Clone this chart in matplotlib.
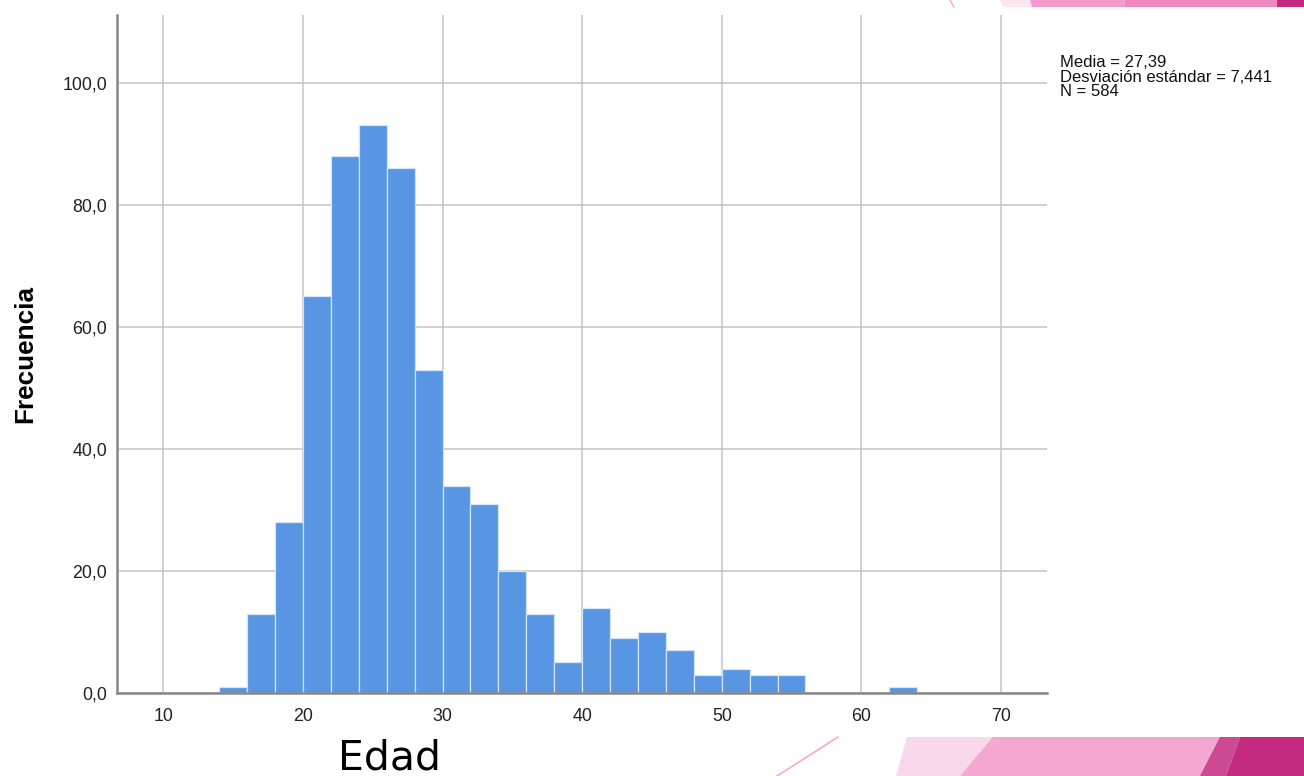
import matplotlib
matplotlib.use("Agg")
import matplotlib.pyplot as plt
from matplotlib.patches import Polygon
from matplotlib.lines import Line2D

# histogram de edades (SPSS), bins de 2 años
bin_left = [14, 16, 18, 20, 22, 24, 26, 28, 30, 32, 34, 36, 38,
            40, 42, 44, 46, 48, 50, 52, 54, 56, 58, 60, 62]
counts = [1, 13, 28, 65, 88, 93, 86, 53, 34, 31, 20, 13, 5,
          14, 9, 10, 7, 3, 4, 3, 3, 0, 0, 0, 1]
bin_width = 2

x_ticks = [10, 20, 30, 40, 50, 60, 70]
y_ticks = [0, 20, 40, 60, 80, 100]
y_labels = ["0,0", "20,0", "40,0", "60,0", "80,0", "100,0"]
stats_lines = ["Media = 27,39", "Desviación estándar = 7,441", "N = 584"]

W, H = 1304, 776
fig = plt.figure(figsize=(W / 100, H / 100), dpi=100)
ax = fig.add_axes([117 / W, 1 - 693 / H, (1047 - 117) / W, (693 - 15) / H])

ax.bar(bin_left, counts, width=bin_width, align="edge",
       color="#5896E4", edgecolor="#d4e4f8", linewidth=0.9, zorder=3)

ax.set_xlim(6.68, 73.3)
ax.set_ylim(0, 111.1)
ax.set_xticks(x_ticks)
ax.set_yticks(y_ticks)
ax.set_yticklabels(y_labels)
ax.grid(True, color="#c8c8c8", linewidth=1.2, zorder=0)
ax.set_axisbelow(True)
ax.tick_params(length=0, labelsize=12.8, labelcolor="#222222")
ax.tick_params(axis="x", pad=11)
ax.tick_params(axis="y", pad=7)
for lab in ax.get_xticklabels() + ax.get_yticklabels():
    lab.set_fontfamily("Liberation Sans")

for s in ["top", "right"]:
    ax.spines[s].set_visible(False)
ax.spines["left"].set_color("#888888")
ax.spines["left"].set_linewidth(1.8)
ax.spines["bottom"].set_color("#888888")
ax.spines["bottom"].set_linewidth(1.8)
ax.spines["left"].set_zorder(4)
ax.spines["bottom"].set_zorder(4)

ax.set_ylabel("Frecuencia", fontsize=18.8, fontweight="bold",
              family="Liberation Sans")
ax.yaxis.set_label_coords(-(117 - 37) / (1047 - 117), 0.5)

fig.text(390 / W, 1 - 769 / H, "Edad", fontsize=29.5, family="DejaVu Sans",
         ha="center", va="baseline")

for i, line in enumerate(stats_lines):
    fig.text(1060 / W, 1 - (67 + 14.5 * i) / H, line, fontsize=12,
             family="Liberation Sans", va="baseline", color="#111111")

# decoracion de la diapositiva
def px_poly(pts, color):
    fig.patches.append(Polygon([(x / W, 1 - y / H) for x, y in pts],
                               closed=True, transform=fig.transFigure,
                               facecolor=color, edgecolor="none", zorder=0))

# abajo
px_poly([(896, 776), (907, 737), (1000, 737), (960, 776)], "#F8D8EA")
px_poly([(960, 776), (993, 737), (1230, 737), (1200, 776)], "#F4A7D1")
px_poly([(1200, 776), (1220, 737), (1240, 737), (1226, 776)], "#CC4A91")
px_poly([(1226, 776), (1240, 737), (1304, 737), (1304, 776)], "#C42A80")
fig.lines.append(Line2D([777 / W, 838 / W], [1 - 776 / H, 1 - 737 / H],
                        transform=fig.transFigure, color="#F4A7D1", linewidth=1.2))

# arriba
px_poly([(1000, 0), (1030, 0), (1032, 7), (1003, 7)], "#FBE6F2")
px_poly([(1030, 0), (1125, 0), (1124, 7), (1032, 7)], "#F49ACA")
px_poly([(1125, 0), (1277, 0), (1277, 7), (1124, 7)], "#F088C0")
px_poly([(1277, 0), (1304, 0), (1304, 7), (1277, 7)], "#C42A80")
fig.lines.append(Line2D([950 / W, 954 / W], [1.0, 1 - 7 / H],
                        transform=fig.transFigure, color="#F4A7D1", linewidth=1.0))

fig.savefig("out.png", dpi=100)
